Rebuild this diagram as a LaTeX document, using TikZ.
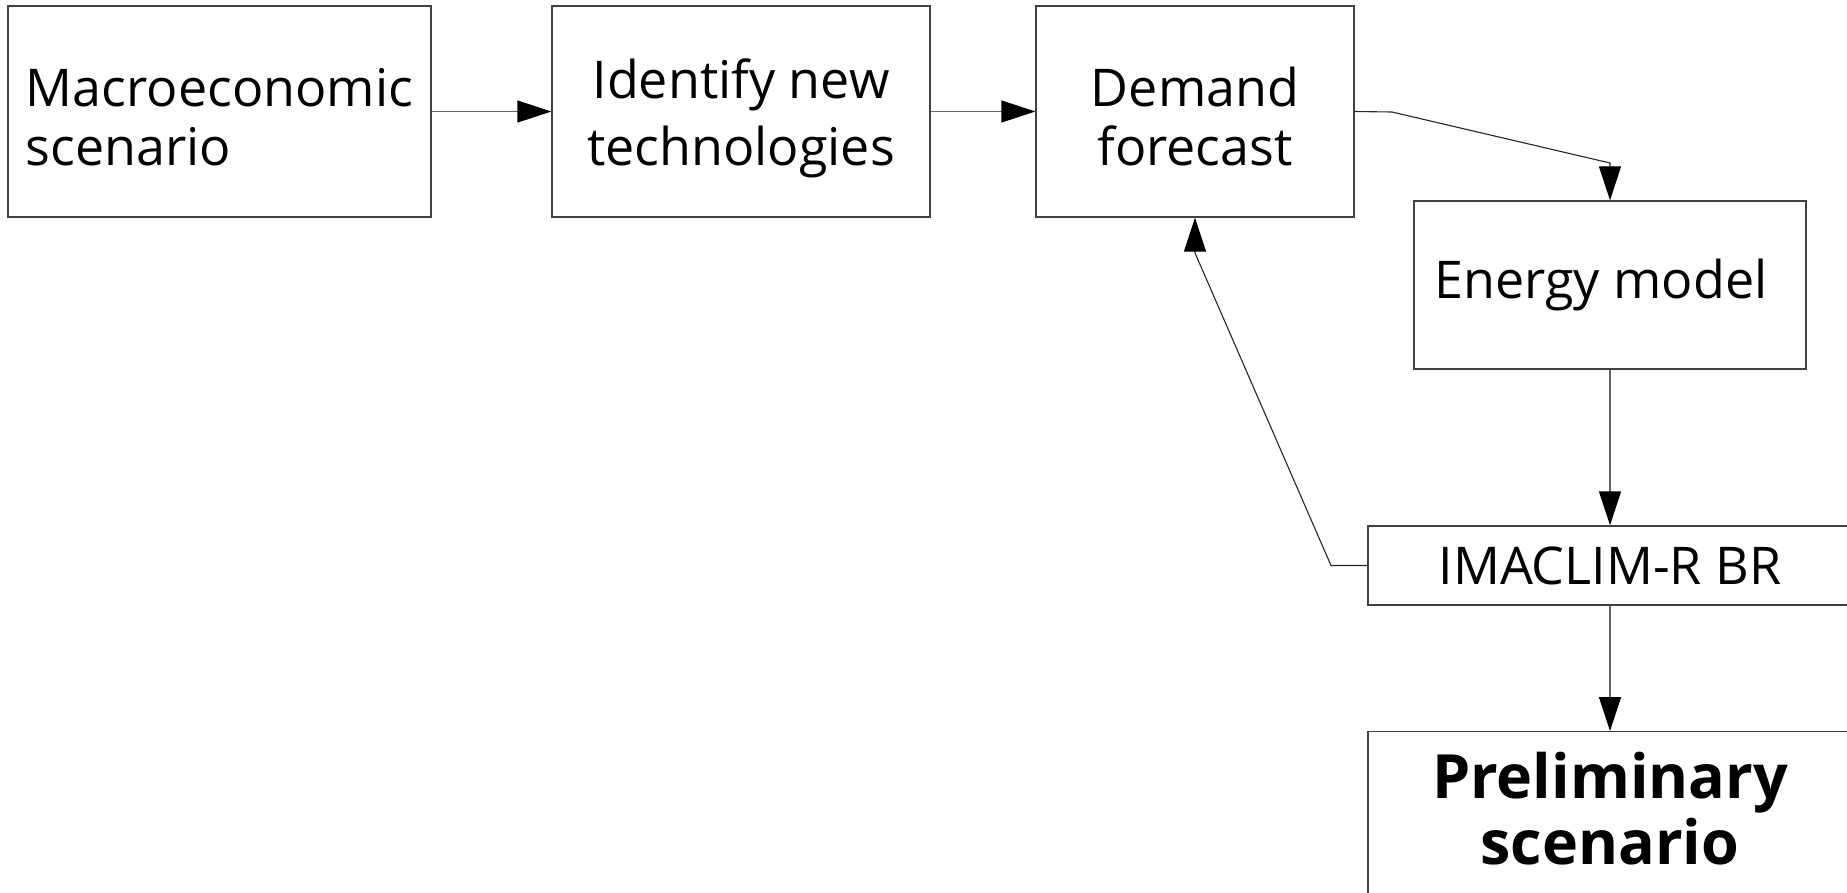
\documentclass[tikz,border=0pt]{standalone}
\usepackage{fontspec}
\setmainfont{Open Sans}
\usetikzlibrary{arrows.meta}
\newcommand\linestrut{\rule[-5pt]{0pt}{58pt}}
\begin{document}
\begin{tikzpicture}[x=1pt,y=-1pt,
  box/.style={draw=black!75, line width=1.3pt, align=center, inner sep=0pt, text=black,
    font=\fontsize{52}{59}\selectfont},
  conn/.style={draw=black!60, line width=1.3pt,
    -{Triangle[length=34pt,width=22pt,color=black]}},
  thin conn/.style={conn, draw=black!85, line width=1.1pt},
]
\useasboundingbox[fill=white] (0,0) rectangle (1847,892);

\node[box, align=left, minimum width=423, minimum height=211] (mac) at (219.5,111.5)
  {\linestrut Macroeconomic\\\linestrut scenario};
\node[box, minimum width=378, minimum height=211] (idn) at (741,111.5)
  {\linestrut Identify new\\\linestrut technologies};
\node[box, minimum width=318, minimum height=211] (dem) at (1195,111.5)
  {\linestrut Demand\\\linestrut forecast};
\node[box, minimum width=392, minimum height=168] (eng) at (1610,285) {Energy model\kern18pt};
\node[box, minimum width=484, minimum height=79] (ima) at (1610,565.5) {IMACLIM-R BR};
\node[box, anchor=north, minimum width=484, inner ysep=20pt, text depth=220pt,
  font=\bfseries\fontsize{61}{66}\selectfont] (pre) at (1610,731) {Preliminary\\scenario};

\coordinate (d1) at (1392,112);
\coordinate (d2) at (1610,163);
\coordinate (f1) at (1331,565.5);
\coordinate (f2) at (1195,253);

\draw[conn] (mac) -- (idn);
\draw[conn] (idn) -- (dem);
\draw[thin conn] (dem.east) -- (d1) -- (d2) -- (eng.north);
\draw[conn] (eng) -- (ima);
\draw[conn] (ima) -- (pre);
\draw[thin conn] (ima.west) -- (f1) -- (f2) -- (dem.south);
\end{tikzpicture}
\end{document}
